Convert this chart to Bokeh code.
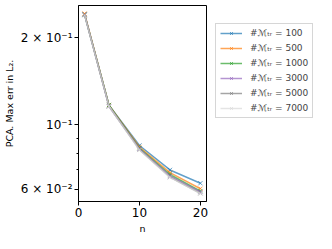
from bokeh.plotting import figure
from bokeh.models import Range1d, FixedTicker, Legend, LegendItem
from bokeh.embed import file_html
from bokeh.resources import INLINE

n_vals = [1, 5, 10, 15, 20]
labels = ["#ℳₜᵣ = 100", "#ℳₜᵣ = 500", "#ℳₜᵣ = 1000",
          "#ℳₜᵣ = 3000", "#ℳₜᵣ = 5000", "#ℳₜᵣ = 7000"]
err_100 = [0.241, 0.117, 0.0850, 0.0700, 0.0630]
err_500 = [0.242, 0.117, 0.0840, 0.0685, 0.0603]
err_1000 = [0.240, 0.117, 0.0832, 0.0675, 0.0592]
err_3000 = [0.240, 0.116, 0.0828, 0.0668, 0.0588]
err_5000 = [0.239, 0.116, 0.0822, 0.0662, 0.0582]
err_7000 = [0.239, 0.116, 0.0820, 0.0660, 0.0580]
series = [err_100, err_500, err_1000, err_3000, err_5000, err_7000]
colors = ["#1f77b4", "#ff7f0e", "#2ca02c", "#9467bd", "#7f7f7f", "#d9d9d9"]

y_ticks = [0.06, 0.1, 0.2]
y_minor = [0.07, 0.08, 0.09]
y_labels = {0.06: "6 × 10⁻²", 0.1: "10⁻¹", 0.2: "2 × 10⁻¹"}
x_ticks = [0, 10, 20]

p = figure(width=316, height=233, output_backend="svg", toolbar_location=None,
           y_axis_type="log", x_range=Range1d(0, 21),
           y_range=Range1d(0.0545, 0.258), min_border_left=68, min_border_top=5,
           min_border_bottom=31, min_border_right=0)
p.frame_width = 128
p.frame_height = 196
p.grid.visible = False
p.outline_line_color = "black"
p.outline_line_alpha = 1

items = []
for s, c, lab in zip(series, colors, labels):
    r1 = p.line(n_vals, s, line_color=c, line_width=1.5, line_alpha=0.7)
    r2 = p.scatter(n_vals, s, marker="x", size=6, line_color=c, line_alpha=0.7, line_width=1)
    items.append(LegendItem(label=lab, renderers=[r1, r2]))

p.xaxis.ticker = FixedTicker(ticks=x_ticks)
p.yaxis.ticker = FixedTicker(ticks=y_ticks, minor_ticks=y_minor)
p.yaxis.major_label_overrides = y_labels
p.xaxis.axis_label = "n"
p.yaxis.axis_label = "PCA. Max err in L₂."
for ax in [p.xaxis[0], p.yaxis[0]]:
    ax.axis_line_color = "black"
    ax.major_tick_line_color = "black"
    ax.minor_tick_line_color = "black"
    ax.major_tick_in = 0
    ax.major_tick_out = 4
    ax.minor_tick_in = 0
    ax.minor_tick_out = 2
    ax.major_label_text_font = "DejaVu Sans"
    ax.major_label_text_color = "black"
    ax.major_label_text_font_size = "12px"
    ax.major_label_standoff = 2
    ax.axis_label_text_font = "DejaVu Sans"
    ax.axis_label_text_font_style = "normal"
    ax.axis_label_text_color = "black"
    ax.axis_label_text_font_size = "9.5px"
    ax.axis_label_standoff = 3
p.xaxis.minor_tick_line_color = None

legend = Legend(items=items, location=(9, 83))
legend.label_text_font = "DejaVu Sans"
legend.label_text_font_size = "9px"
legend.label_height = 10
legend.glyph_height = 10
legend.glyph_width = 22
legend.spacing = 5
legend.padding = 4
legend.margin = 0
legend.label_standoff = 8
legend.border_line_color = "#cccccc"
legend.border_line_alpha = 0.8
legend.background_fill_alpha = 0.8
p.add_layout(legend, "right")

open("out.html", "w").write(file_html(p, INLINE))
